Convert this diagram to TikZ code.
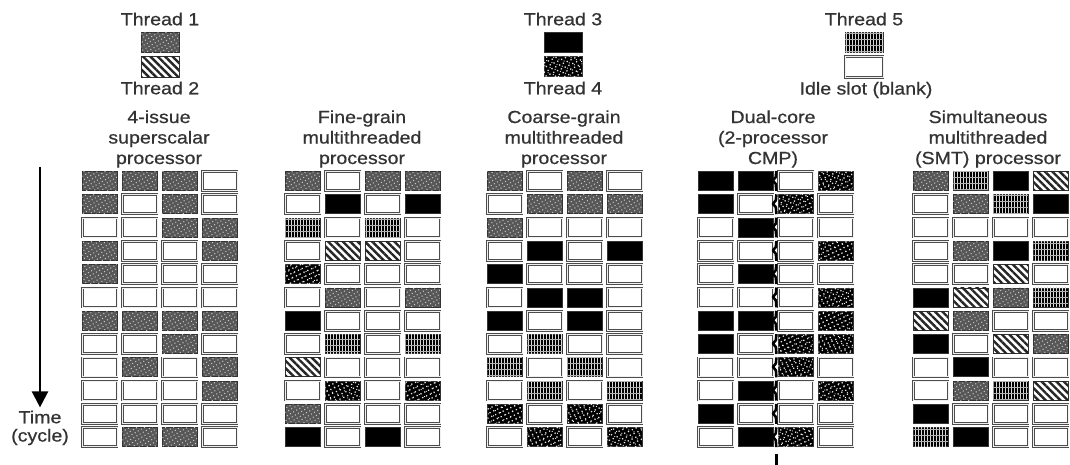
\documentclass[tikz,border=0pt]{standalone}
\usepackage{fontspec}
\setmainfont{Liberation Sans}[FakeStretch=1.12,FakeBold=0.7]
\usetikzlibrary{patterns.meta,arrows.meta}
\newcommand\cellgrid[3]{%
  \foreach \row [count=\r] in {#3} {
    \foreach \t [count=\c] in \row {
      \node[t\t] (#1-\r-\c) at ({#2+40*(\c-1)}, {171+23.3*(\r-1)}) {};
    }
  }%
}
\begin{document}
\begin{tikzpicture}[x=1pt,y=-1pt,
  lbl/.style={font=\fontsize{17.5}{20.5}\selectfont, text=black!80, inner sep=0pt, align=center},
  cell/.style={minimum width=34.5pt, minimum height=19pt, inner sep=0pt, anchor=north west, draw=black!80, line width=0.8pt},
  tI/.style={cell, fill=white, draw=black!70, double=black!6, double distance=0.8pt, line width=0.9pt},
  tA/.style={cell, fill=black!66, postaction={pattern={Dots[distance=3.6pt, radius=0.75pt, angle=30]}, pattern color=black!22}},
  tB/.style={cell, fill=white, postaction={pattern={Lines[angle=-45, distance=5.2pt, line width=2.4pt]}, pattern color=black!85}},
  tC/.style={cell, fill=black},
  tD/.style={cell, fill=black, postaction={pattern={Dots[distance=4.2pt, radius=0.9pt, angle=25]}, pattern color=white!90!black}, postaction={pattern={Dots[distance=5.5pt, radius=0.6pt, angle=70, xshift=1.5pt]}, pattern color=white}},
  tE/.style={cell, fill=black, postaction={pattern={Lines[angle=90, distance=3pt, line width=0.9pt]}, pattern color=white!85!black}, postaction={pattern={Lines[angle=0, distance=6pt, line width=0.6pt]}, pattern color=white!70!black}},
  legbox/.style={minimum width=38pt, minimum height=20.5pt, anchor=center},
  sep/.style={line width=2.6pt, black, line join=round}
]
\useasboundingbox (0,0) rectangle (1070,465);

% legend
\node[lbl] (th1) at (160,19) {Thread 1};
\node[tA, legbox] (leg1) at (160,42.5) {};
\node[tB, legbox] (leg2) at (160,67) {};
\node[lbl] (th2) at (160,88) {Thread 2};
\node[lbl] (th3) at (563,19) {Thread 3};
\node[tC, legbox] (leg3) at (563,42.5) {};
\node[tD, legbox] (leg4) at (563,66.5) {};
\node[lbl] (th4) at (563,88) {Thread 4};
\node[lbl] (th5) at (864,19) {Thread 5};
\node[tE, legbox] (leg5) at (864,42.5) {};
\node[tI, legbox] (leg6) at (864,67) {};
\node[lbl] (idle) at (866,90) {Idle slot (blank)};

% titles
\node[lbl] (ti1) at (159,139) {4-issue\\superscalar\\processor};
\node[lbl] (ti2) at (362,139) {Fine-grain\\multithreaded\\processor};
\node[lbl] (ti3) at (564,139) {Coarse-grain\\multithreaded\\processor};
\node[lbl] (ti4) at (773,139) {Dual-core\\(2-processor\\CMP)};
\node[lbl] (ti5) at (988,139) {Simultaneous\\multithreaded\\(SMT) processor};

% grids
\cellgrid{g1}{82}{{A,A,A,I},{A,I,A,I},{I,I,A,A},{A,I,I,A},{A,I,I,I},{I,I,I,I},{A,A,A,A},{I,I,A,I},{I,A,I,A},{I,I,I,A},{I,I,I,I},{I,A,A,I}}
\cellgrid{g2}{285}{{A,I,A,A},{I,C,I,C},{E,I,E,I},{I,B,B,I},{D,I,I,I},{I,A,I,A},{C,I,I,I},{I,E,I,E},{B,I,I,I},{I,D,I,D},{A,I,I,I},{C,I,C,I}}
\cellgrid{g3}{487}{{A,I,A,I},{I,A,A,A},{A,I,I,I},{I,C,I,C},{C,I,I,I},{I,C,C,I},{C,I,C,I},{I,E,I,I},{E,I,E,I},{I,E,I,E},{D,I,D,I},{I,D,I,D}}
\cellgrid{g4}{698}{{C,C,I,D},{C,I,D,I},{I,C,I,I},{I,I,I,D},{I,C,I,I},{I,I,I,D},{C,C,I,D},{C,I,D,D},{I,I,D,I},{I,C,I,D},{C,I,I,I},{I,C,D,I}}
\cellgrid{g5}{913}{{A,E,C,B},{I,A,E,C},{I,I,I,I},{I,A,C,E},{I,I,B,I},{C,B,A,E},{B,A,I,I},{C,I,B,A},{I,C,I,I},{I,A,E,B},{C,I,I,I},{E,C,I,I}}

% dual-core separator
\foreach \r in {1,...,12} {
  \draw[sep] ([xshift=3pt]g4-\r-2.north east) -- ++(-0.5,6) -- ++(-3,3.5) -- ++(3,3.5) -- ([xshift=3pt]g4-\r-2.south east);
}
\coordinate (sepa) at ([xshift=3pt,yshift=-7pt]g4-12-2.south east);
\coordinate (sepb) at ([xshift=3pt,yshift=-18pt]g4-12-2.south east);
\draw[sep] (sepa) -- (sepb);

% time arrow
\node[lbl] (time) at (40,417) {Time};
\node[lbl] (cycle) at (40,437) {(cycle)};
\coordinate (tstart) at (40,167);
\draw[line width=2.6pt, -{Triangle[width=16pt,length=16pt]}] (tstart) -- ([yshift=3pt]time.north);
\end{tikzpicture}
\end{document}
